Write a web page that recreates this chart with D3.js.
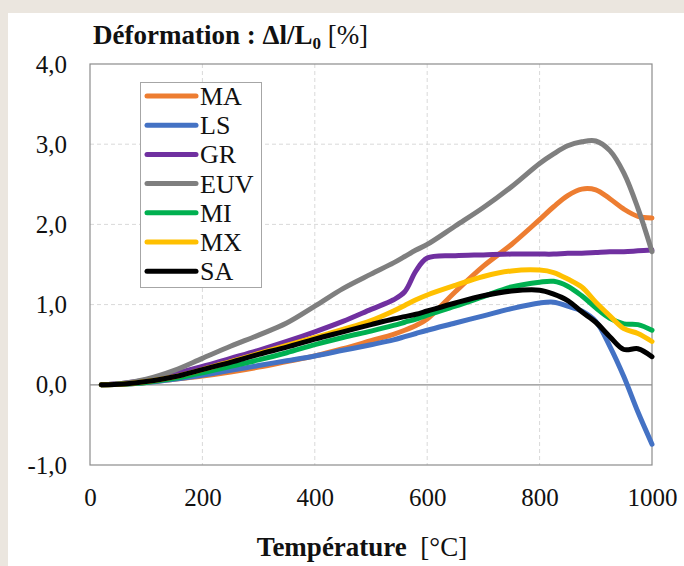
<!DOCTYPE html>
<html lang="fr">
<head>
  <meta charset="UTF-8">
  <title>Déformation</title>
  <style>
    * { margin: 0; }
    body { background: #ebe6df; }
    svg { display: block; font-family: "Liberation Serif", "Times New Roman", serif; }
  </style>
</head>
<body>
  <div id="chart"></div>
  <script src="https://cdnjs.cloudflare.com/ajax/libs/d3/7.8.5/d3.min.js"></script>
  <script>
    // temperatures (°C) shared by all series
    const temperatures = [20, 60, 100, 150, 200, 250, 300, 350, 400, 450, 500, 540, 560, 580, 600,
      650, 700, 750, 800, 825, 850, 875, 900, 925, 950, 975, 1000];

    // deformation dl/L0 in %
    const MA = [0, 0.01, 0.03, 0.07, 0.11, 0.16, 0.22, 0.29, 0.36, 0.45, 0.55, 0.63, 0.68, 0.74, 0.82,
      1.16, 1.48, 1.75, 2.06, 2.22, 2.36, 2.44, 2.43, 2.32, 2.19, 2.10, 2.08];
    const LS = [0, 0.01, 0.03, 0.07, 0.12, 0.18, 0.24, 0.30, 0.36, 0.43, 0.50, 0.56, 0.60, 0.64, 0.68,
      0.77, 0.86, 0.95, 1.02, 1.03, 0.98, 0.92, 0.79, 0.48, 0.10, -0.34, -0.74];
    const GR = [0, 0.02, 0.06, 0.14, 0.23, 0.33, 0.43, 0.54, 0.66, 0.79, 0.94, 1.06, 1.16, 1.42, 1.58,
      1.61, 1.62, 1.63, 1.63, 1.63, 1.64, 1.64, 1.65, 1.66, 1.66, 1.67, 1.68];
    const EUV = [0, 0.02, 0.07, 0.18, 0.33, 0.48, 0.62, 0.77, 0.98, 1.20, 1.38, 1.52, 1.60, 1.68, 1.75,
      1.98, 2.21, 2.47, 2.76, 2.88, 2.98, 3.03, 3.04, 2.92, 2.64, 2.20, 1.66];
    const MI = [0, 0.01, 0.03, 0.08, 0.15, 0.23, 0.31, 0.40, 0.50, 0.59, 0.67, 0.74, 0.78, 0.82, 0.87,
      0.98, 1.10, 1.22, 1.28, 1.29, 1.23, 1.11, 0.96, 0.83, 0.76, 0.75, 0.68];
    const MX = [0, 0.01, 0.04, 0.10, 0.19, 0.29, 0.39, 0.49, 0.59, 0.69, 0.80, 0.92, 0.99, 1.06, 1.12,
      1.24, 1.35, 1.42, 1.43, 1.40, 1.32, 1.22, 1.03, 0.86, 0.70, 0.64, 0.54];
    const SA = [0, 0.01, 0.04, 0.10, 0.19, 0.28, 0.38, 0.47, 0.57, 0.66, 0.75, 0.82, 0.85, 0.88, 0.92,
      1.02, 1.11, 1.17, 1.18, 1.13, 1.05, 0.91, 0.78, 0.60, 0.44, 0.45, 0.35];

    const seriesNames = ['MA', 'LS', 'GR', 'EUV', 'MI', 'MX', 'SA'];
    const seriesValues = [MA, LS, GR, EUV, MI, MX, SA];
    const colors = ['#ed7d31', '#4472c4', '#7030a0', '#7f7f7f', '#00b050', '#ffc000', '#000000'];

    const xTicks = [0, 200, 400, 600, 800, 1000];
    const yTicks = [-1, 0, 1, 2, 3, 4];

    const serif = '"Liberation Serif", "Times New Roman", serif';
    const width = 684, height = 566;
    const margin = { top: 64, right: 32, bottom: 101, left: 90 };

    const svg = d3.select('#chart')
      .append('svg')
      .attr('width', width)
      .attr('height', height);

    // white panel over the beige page
    svg.append('rect')
      .attr('x', 8).attr('y', 13)
      .attr('width', width - 8).attr('height', height - 13)
      .attr('fill', '#fff');

    const x = d3.scaleLinear().domain([0, 1000]).range([margin.left, width - margin.right]);
    const y = d3.scaleLinear().domain([-1, 4]).range([height - margin.bottom, margin.top]);

    const locale = d3.formatLocale({ decimal: ',', thousands: '', grouping: [3], currency: ['', ''], minus: '-' });
    const fmtY = locale.format('.1f');

    // grid
    svg.append('g')
      .selectAll('line')
      .data(xTicks.slice(1, -1))
      .join('line')
      .attr('x1', d => x(d)).attr('x2', d => x(d))
      .attr('y1', y(4)).attr('y2', y(-1))
      .attr('stroke', '#d9d9d9').attr('stroke-dasharray', '4,3');
    svg.append('g')
      .selectAll('line')
      .data([1, 2, 3])
      .join('line')
      .attr('x1', x(0)).attr('x2', x(1000))
      .attr('y1', d => y(d)).attr('y2', d => y(d))
      .attr('stroke', '#d9d9d9').attr('stroke-dasharray', '4,3');

    // zero line + frame
    svg.append('line')
      .attr('x1', x(0)).attr('x2', x(1000))
      .attr('y1', y(0)).attr('y2', y(0))
      .attr('stroke', '#8c8c8c').attr('stroke-width', 1.2);
    svg.append('rect')
      .attr('x', x(0)).attr('y', y(4))
      .attr('width', x(1000) - x(0)).attr('height', y(-1) - y(4))
      .attr('fill', 'none').attr('stroke', '#8c8c8c').attr('stroke-width', 1.2);

    // axes
    const styleTicks = g => {
      g.select('.domain').remove();
      g.attr('font-family', serif).attr('font-size', 25);
      g.selectAll('text')
        .style('font-family', serif)
        .style('font-size', '25px')
        .attr('fill', '#111');
    };
    svg.append('g')
      .attr('transform', `translate(${x(0)},0)`)
      .call(d3.axisLeft(y).tickValues(yTicks).tickSize(0).tickPadding(23).tickFormat(fmtY))
      .call(styleTicks);
    svg.append('g')
      .attr('transform', `translate(0,${y(-1)})`)
      .call(d3.axisBottom(x).tickValues(xTicks).tickSize(0).tickPadding(23).tickFormat(d3.format('d')))
      .call(styleTicks);

    // lines
    const line = d3.line()
      .x((d, i) => x(temperatures[i]))
      .y(d => y(d))
      .curve(d3.curveCatmullRom.alpha(0.5));

    svg.append('g')
      .selectAll('path')
      .data(seriesValues)
      .join('path')
      .attr('d', d => line(d))
      .attr('fill', 'none')
      .attr('stroke', (d, i) => colors[i])
      .attr('stroke-width', 5)
      .attr('stroke-linejoin', 'round')
      .attr('stroke-linecap', 'round');

    // legend
    const legend = svg.append('g');
    legend.append('rect')
      .attr('x', 140.5).attr('y', 82.5)
      .attr('width', 121).attr('height', 205)
      .attr('fill', '#fff').attr('stroke', '#a6a6a6');
    const item = legend.selectAll('g')
      .data(seriesNames)
      .join('g')
      .attr('transform', (d, i) => `translate(0,${96 + i * 29.2})`);
    item.append('line')
      .attr('x1', 147).attr('x2', 196)
      .attr('stroke', (d, i) => colors[i])
      .attr('stroke-width', 5)
      .attr('stroke-linecap', 'round');
    item.append('text')
      .attr('x', 200).attr('y', 9)
      .attr('font-size', 26)
      .attr('fill', '#111')
      .text(d => d);

    // titles
    const title = svg.append('text')
      .attr('x', 93).attr('y', 44)
      .attr('font-size', 27)
      .attr('fill', '#111');
    title.append('tspan').attr('font-weight', 'bold').text('Déformation : Δl/L');
    title.append('tspan').attr('font-weight', 'bold').attr('font-size', 17).attr('dy', 5).text('0');
    title.append('tspan').attr('dy', -5).text(' [%]');

    const xTitle = svg.append('text')
      .attr('x', 362).attr('y', 556)
      .attr('text-anchor', 'middle')
      .attr('font-size', 27)
      .attr('fill', '#111');
    xTitle.append('tspan').attr('font-weight', 'bold').text('Température');
    xTitle.append('tspan').attr('xml:space', 'preserve').text('  [°C]');
  </script>
</body>
</html>
